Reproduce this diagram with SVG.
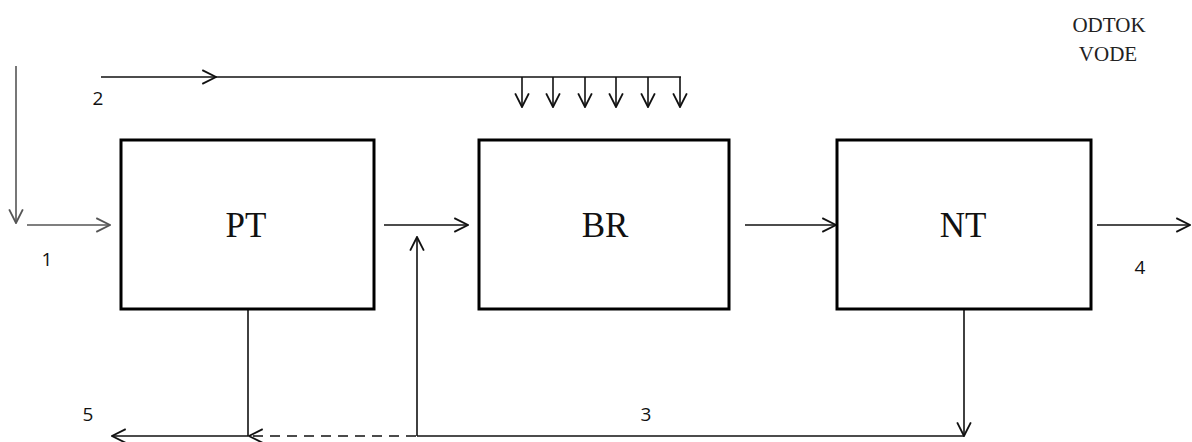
<svg xmlns="http://www.w3.org/2000/svg" width="1192" height="442" viewBox="0 0 1192 442">
<style>
.box{fill:#fff;stroke:#000;stroke-width:3}
.lbl{font-family:"Liberation Serif","Times New Roman",serif;font-size:35px;fill:#111;text-anchor:middle}
.num{font-family:"Open Sans","Liberation Sans",sans-serif;font-size:19px;fill:#111;text-anchor:middle}
.ttl{font-family:"Liberation Serif","Times New Roman",serif;font-size:21px;fill:#222;text-anchor:middle}
.c{fill:none;stroke:#111;stroke-width:1.6}
.g{stroke:#555}
.d{stroke-dasharray:10 7}
</style>
<defs>
<marker id="ah" markerUnits="userSpaceOnUse" markerWidth="16" markerHeight="16" viewBox="0 0 14 14" refX="13" refY="7" orient="auto">
<path d="M1,1 L13,7 L1,13" fill="none" stroke="#111" stroke-width="1.6"/>
</marker>
<marker id="ahg" markerUnits="userSpaceOnUse" markerWidth="16" markerHeight="16" viewBox="0 0 14 14" refX="13" refY="7" orient="auto">
<path d="M1,1 L13,7 L1,13" fill="none" stroke="#555" stroke-width="1.6"/>
</marker>
</defs>
<g id="connectors">
<line class="c g" x1="16" y1="66" x2="16" y2="223" marker-end="url(#ahg)"/>
<line class="c g" x1="27" y1="225" x2="110" y2="225" marker-end="url(#ahg)"/>
<line class="c" x1="101" y1="77" x2="216" y2="77" marker-end="url(#ah)"/>
<line class="c" x1="214" y1="77" x2="681" y2="77"/>
<line class="c" x1="522" y1="77" x2="522" y2="107" marker-end="url(#ah)"/>
<line class="c" x1="553" y1="77" x2="553" y2="107" marker-end="url(#ah)"/>
<line class="c" x1="585" y1="77" x2="585" y2="107" marker-end="url(#ah)"/>
<line class="c" x1="616" y1="77" x2="616" y2="107" marker-end="url(#ah)"/>
<line class="c" x1="648" y1="77" x2="648" y2="107" marker-end="url(#ah)"/>
<line class="c" x1="680" y1="77" x2="680" y2="107" marker-end="url(#ah)"/>
<line class="c" x1="384" y1="225" x2="468" y2="225" marker-end="url(#ah)"/>
<line class="c" x1="745" y1="225" x2="836" y2="225" marker-end="url(#ah)"/>
<line class="c" x1="1097" y1="225" x2="1190" y2="225" marker-end="url(#ah)"/>
<line class="c" x1="964" y1="310" x2="964" y2="436" marker-end="url(#ah)"/>
<line class="c" x1="964" y1="436" x2="417" y2="436"/>
<line class="c" x1="417" y1="436" x2="417" y2="237" marker-end="url(#ah)"/>
<line class="c d" x1="416" y1="436" x2="249" y2="436" marker-end="url(#ah)"/>
<line class="c" x1="248" y1="310" x2="248" y2="436"/>
<line class="c" x1="248" y1="436" x2="112" y2="436" marker-end="url(#ah)"/>
</g>
<g id="PT">
<rect class="box" x="121" y="140" width="253" height="169"/>
<text class="lbl" x="246" y="237">PT</text>
</g>
<g id="BR">
<rect class="box" x="479" y="140" width="250" height="169"/>
<text class="lbl" x="605" y="237">BR</text>
</g>
<g id="NT">
<rect class="box" x="837" y="140" width="254" height="169"/>
<text class="lbl" x="963" y="237">NT</text>
</g>
<g id="labels">
<text class="num" x="47" y="266">1</text>
<text class="num" x="98" y="105">2</text>
<text class="num" x="646" y="421">3</text>
<text class="num" x="1140" y="274">4</text>
<text class="num" x="88" y="421">5</text>
<text class="ttl" x="1109" y="32">ODTOK</text>
<text class="ttl" x="1108" y="61">VODE</text>
</g>
</svg>
